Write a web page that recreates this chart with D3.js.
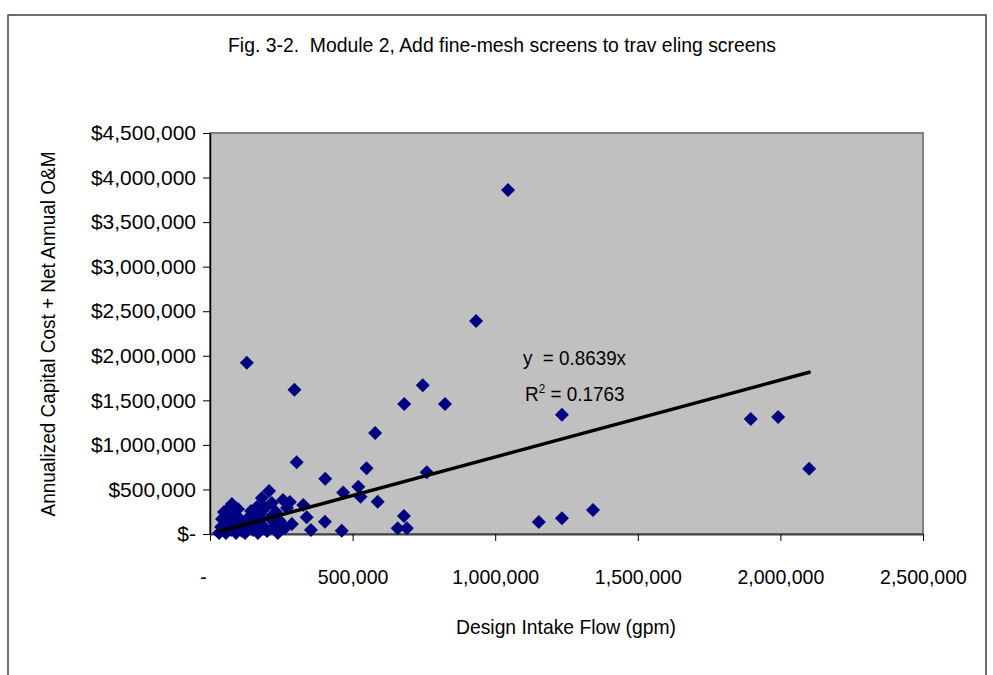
<!DOCTYPE html>
<html>
<head>
<meta charset="utf-8">
<script src="https://cdn.jsdelivr.net/npm/d3@7/dist/d3.min.js"></script>
<style>
  html, body { margin: 0; padding: 0; background: #ffffff; }
  svg { display: block; }
  text { font-family: "Liberation Sans Narrow", "Arial Narrow", "Liberation Sans", Arial, sans-serif; fill: #000; }
</style>
</head>
<body>
<svg id="chart" width="993" height="675"></svg>
<script>
// ---- data ----
const flowGpm = [
  1045000, 933000, 129000, 296000, 746000, 681000, 824000, 579000, 1234000, 304000,
  549000, 760000, 404000, 467000, 520000, 528000, 588000, 680000, 658000, 690000,
  462000, 403000, 1153000, 1234000, 1343000, 1896000, 1992000, 2101000, 354000, 339000,
  327000,
  32000, 39000, 42000, 49000, 56000, 60000, 67000, 70000, 74000, 77000,
  84000, 88000, 91000, 98000, 105000, 112000, 123000, 130000, 137000, 144000,
  151000, 158000, 165000, 168000, 175000, 182000, 186000, 193000, 200000, 207000,
  210000, 217000, 224000, 231000, 238000, 245000, 256000, 263000, 270000, 280000,
  287000
];
const annualCost = [
  3860000, 2390000, 1922000, 1619000, 1669000, 1459000, 1459000, 1133000, 1339000, 805000,
  737000, 692000, 621000, 466000, 531000, 419000, 362000, 202000, 64000, 64000,
  37000, 138000, 135000, 176000, 269000, 1290000, 1313000, 733000, 45000, 187000,
  325000,
  11000, 79000, 168000, 247000, 11000, 123000, 292000, 191000, 45000, 337000,
  247000, 112000, 11000, 281000, 168000, 34000, 11000, 101000, 191000, 258000,
  45000, 146000, 303000, 11000, 224000, 404000, 90000, 292000, 34000, 483000,
  180000, 348000, 79000, 247000, 11000, 146000, 382000, 67000, 292000, 359000,
  112000
];
const xTickValues = [0, 500000, 1000000, 1500000, 2000000, 2500000];
const xTickLabels = ["-", "500,000", "1,000,000", "1,500,000", "2,000,000", "2,500,000"];
const yTickValues = [0, 500000, 1000000, 1500000, 2000000, 2500000, 3000000, 3500000, 4000000, 4500000];
const yTickLabels = ["$-", "$500,000", "$1,000,000", "$1,500,000", "$2,000,000", "$2,500,000", "$3,000,000", "$3,500,000", "$4,000,000", "$4,500,000"];
const trendSlope = 0.8639;
const trendLabels = ["y  = 0.8639x", "R", "2", " = 0.1763"];
const chartTitle = "Fig. 3-2.  Module 2, Add fine-mesh screens to trav eling screens";
const xTitle = "Design Intake Flow (gpm)";
const yTitle = "Annualized Capital Cost + Net Annual O&M";

// ---- layout ----
const FS = 21;
const svg = d3.select("#chart");
const P = { left: 210, right: 923, top: 133, bottom: 534 };
const x = d3.scaleLinear().domain([0, 2500000]).range([P.left, P.right]);
const y = d3.scaleLinear().domain([0, 4500000]).range([P.bottom, P.top]);

function squeeze(sel, factor) {
  sel.each(function () {
    const w = this.getComputedTextLength();
    d3.select(this).attr("textLength", w * factor).attr("lengthAdjust", "spacingAndGlyphs");
  });
}

// outer frame (no bottom edge visible)
svg.append("path")
  .attr("d", "M8,675 L8,15 L986,15 L986,675")
  .attr("fill", "none").attr("stroke", "#404040").attr("stroke-width", 1.5);

// title
svg.append("text")
  .attr("x", 502).attr("y", 52)
  .attr("text-anchor", "middle")
  .attr("font-size", FS)
  .attr("textLength", 548).attr("lengthAdjust", "spacingAndGlyphs")
  .style("white-space", "pre")
  .text(chartTitle);

// plot area
svg.append("rect")
  .attr("x", P.left).attr("y", P.top)
  .attr("width", P.right - P.left).attr("height", P.bottom - P.top)
  .attr("fill", "#c0c0c0").attr("stroke", "#808080").attr("stroke-width", 2);

// axes
const xAxis = d3.axisBottom(x)
  .tickValues(xTickValues)
  .tickSize(7).tickSizeOuter(0).tickPadding(28)
  .tickFormat((d, i) => xTickLabels[i]);
const gx = svg.append("g").attr("transform", `translate(0,${P.bottom})`).call(xAxis);
gx.attr("font-family", null).attr("font-size", null);
gx.select(".domain").attr("stroke", "#404040").attr("stroke-width", 2);
gx.selectAll(".tick line").attr("stroke", "#000").attr("stroke-width", 1);
gx.selectAll(".tick text")
  .attr("font-size", FS)
  .attr("dx", (d, i) => i === 0 ? -7 : 0)
  .call(squeeze, 0.93);

const yAxis = d3.axisLeft(y)
  .tickValues(yTickValues)
  .tickSize(7).tickSizeOuter(0).tickPadding(7)
  .tickFormat((d, i) => yTickLabels[i]);
const gy = svg.append("g").attr("transform", `translate(${P.left},0)`).call(yAxis);
gy.attr("font-family", null).attr("font-size", null);
gy.select(".domain").attr("stroke", "#000").attr("stroke-width", 1.5);
gy.selectAll(".tick line").attr("stroke", "#000").attr("stroke-width", 1);
gy.selectAll(".tick text").attr("font-size", FS).call(squeeze, 1.0);

// points
const pts = flowGpm.map((v, i) => ({ fx: v, cy: annualCost[i] }));
const diamond = d3.symbol().type(d3.symbolSquare).size(98);
svg.append("g").selectAll("path")
  .data(pts).join("path")
  .attr("d", diamond)
  .attr("transform", d => `translate(${x(d.fx)},${y(d.cy)}) rotate(45)`)
  .attr("fill", "#000080");

// trend line
const xMin = d3.min(flowGpm), xMax = d3.max(flowGpm);
svg.append("line")
  .attr("x1", x(xMin)).attr("y1", y(trendSlope * xMin))
  .attr("x2", x(xMax)).attr("y2", y(trendSlope * xMax))
  .attr("stroke", "#000").attr("stroke-width", 3.5).attr("stroke-linecap", "round");

// equation labels
svg.append("text")
  .attr("x", 523).attr("y", 365)
  .attr("font-size", FS)
  .attr("textLength", 103).attr("lengthAdjust", "spacingAndGlyphs")
  .style("white-space", "pre")
  .text(trendLabels[0]);
const r2 = svg.append("text")
  .attr("x", 525).attr("y", 401)
  .attr("font-size", FS)
  .style("white-space", "pre");
r2.append("tspan").text(trendLabels[1]);
r2.append("tspan").attr("dy", -8).attr("font-size", 13).text(trendLabels[2]);
r2.append("tspan").attr("dy", 8).text(trendLabels[3]);
r2.call(squeeze, 0.9);

// axis titles
svg.append("text")
  .attr("x", 566).attr("y", 634)
  .attr("text-anchor", "middle")
  .attr("font-size", FS)
  .attr("textLength", 220).attr("lengthAdjust", "spacingAndGlyphs")
  .text(xTitle);
svg.append("text")
  .attr("transform", "translate(55,334) rotate(-90)")
  .attr("text-anchor", "middle")
  .attr("font-size", FS)
  .attr("textLength", 365).attr("lengthAdjust", "spacingAndGlyphs")
  .text(yTitle);
</script>
</body>
</html>
